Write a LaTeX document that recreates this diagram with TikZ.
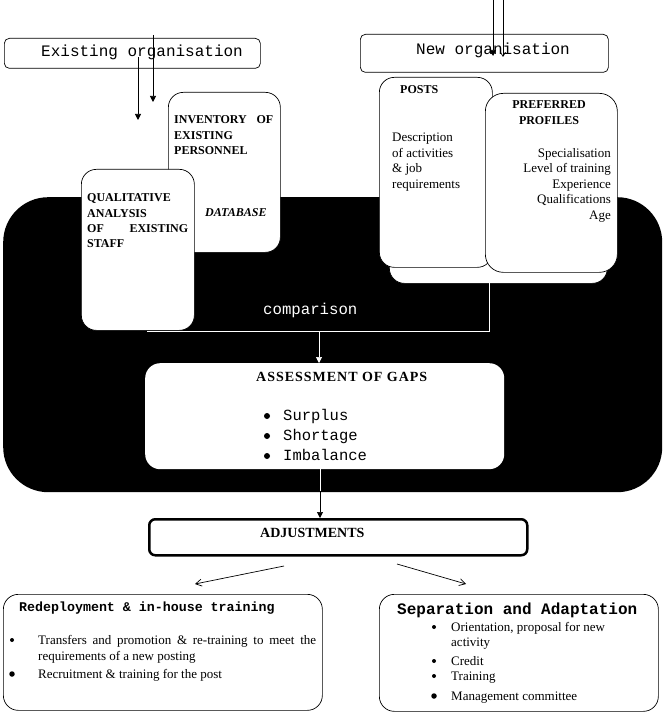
\documentclass[tikz,border=0pt]{standalone}
\usepackage{fontspec}
\setmainfont{Liberation Serif}
\setmonofont{Liberation Mono}
\usetikzlibrary{arrows.meta}
\tikzset{
  box/.style={draw, fill=white, rounded corners=15pt, inner sep=0pt, line width=0.7pt, anchor=north west},
  lbox/.style={draw, fill=white, rounded corners=5pt, inner sep=0pt, line width=0.7pt, anchor=north west},
  txt/.style={anchor=base west, inner sep=0pt},
  rtxt/.style={anchor=base east, inner sep=0pt},
  capsf/.style={font=\fontsize{12}{14}\selectfont\bfseries},
  bodyf/.style={font=\fontsize{13}{15}\selectfont},
  monof/.style={font=\fontsize{16}{18}\selectfont\ttfamily},
  bul/.style={circle, fill, inner sep=0pt, minimum size=4.5pt},
  tipF/.style={line width=0.7pt, -{Triangle[length=6pt,width=6pt]}},
  tipO/.style={line width=0.7pt, -{Straight Barb[length=6pt,width=7pt]}},
  tipS/.style={line width=0.7pt, -{Straight Barb[length=4pt,width=5pt]}},
}
\begin{document}
\begin{tikzpicture}[x=1pt,y=-1pt]
\useasboundingbox (0,0) rectangle (668,714);
% top boxes
\node[lbox, minimum width=256pt, minimum height=30pt] (exist) at (4,38) {};
\node[monof, txt] (existt) at (41,57) {Existing organisation};
\node[lbox, minimum width=248pt, minimum height=38pt] (neworg) at (360,34) {};
\node[monof, txt] (neworgt) at (416,55) {New organisation};
% black background
\node[fill=black, rounded corners=45pt, inner sep=0pt, anchor=north west, minimum width=659pt, minimum height=295pt] (bg) at (3,197) {};
% right group
\node[box, minimum width=218pt, minimum height=183pt] (shadow) at (389,100) {};
\node[box, minimum width=113pt, minimum height=190pt] (posts) at (379,77) {};
\node[box, rounded corners=18pt, minimum width=132pt, minimum height=179pt] (pref) at (485,93) {};
\node[capsf, txt] (postst) at (400,94) {POSTS};
\node[bodyf, txt] (d1) at (392,142) {Description};
\node[bodyf, txt] (d2) at (392,157.5) {of activities};
\node[bodyf, txt] (d3) at (392,173) {\& job};
\node[bodyf, txt] (d4) at (392,188.5) {requirements};
\node[capsf, anchor=base, inner sep=0pt] (preft) at (549,109) {PREFERRED};
\node[capsf, anchor=base, inner sep=0pt] (proft) at (549,125) {PROFILES};
\node[bodyf, rtxt] (p1) at (611,157.5) {Specialisation};
\node[bodyf, rtxt] (p2) at (611,173) {Level of training};
\node[bodyf, rtxt] (p3) at (611,188.5) {Experience};
\node[bodyf, rtxt] (p4) at (611,204) {Qualifications};
\node[bodyf, rtxt] (p5) at (611,219.5) {Age};
% left group
\node[box, minimum width=112pt, minimum height=160pt] (inv) at (168,92) {};
\node[capsf, txt] (inv1) at (174,124) {\makebox[99pt][s]{INVENTORY OF}};
\node[capsf, txt] (inv2) at (174,139.3) {EXISTING};
\node[capsf, txt] (inv3) at (174,154.3) {PERSONNEL};
\node[capsf, txt, font=\fontsize{12}{14}\selectfont\bfseries\itshape] (db) at (205,216.7) {DATABASE};
\node[box, minimum width=113pt, minimum height=161pt] (qual) at (81,169) {};
\node[capsf, txt] (q1) at (87,201.7) {QUALITATIVE};
\node[capsf, txt] (q2) at (87,217) {ANALYSIS};
\node[capsf, txt] (q3) at (87,232.3) {\makebox[101pt][s]{OF EXISTING}};
\node[capsf, txt] (q4) at (87,247.7) {STAFF};
% arrows from top
\coordinate (ea1) at (153,35);
\coordinate (ea1e) at (153,102);
\coordinate (ea2) at (138,57);
\coordinate (ea2e) at (138,120);
\draw[tipF] (ea1) -- (ea1e);
\draw[tipF] (ea2) -- (ea2e);
\coordinate (na1) at (493,0);
\coordinate (na1e) at (493,56);
\coordinate (na2) at (503,0);
\coordinate (na2e) at (503,57);
\draw[tipF] (na1) -- (na1e);
\draw[tipS] (na2) -- (na2e);
% comparison
\node[txt, text=white, font=\fontsize{15.7}{18}\selectfont\ttfamily] (cmp) at (263,314) {comparison};
\coordinate (c1) at (147,331);
\coordinate (c2) at (489,331);
\coordinate (c3) at (489,283);
\coordinate (c4) at (319,331);
\draw[white, line width=0.7pt] (c1) -- (c2) -- (c3);
% assessment
\node[fill=white, rounded corners=15pt, inner sep=0pt, anchor=north west, minimum width=359pt, minimum height=106pt] (assess) at (145,363) {};
\draw[tipF, white] (c4) -- (c4 |- assess.north);
\node[txt, font=\fontsize{14}{16}\selectfont\bfseries\addfontfeature{LetterSpace=7}] (asst) at (256,381) {ASSESSMENT OF GAPS};
\node[bul, minimum size=6pt] (ab1) at (267,416) {};
\node[bul, minimum size=6pt] (ab2) at (267,436) {};
\node[bul, minimum size=6pt] (ab3) at (267,456) {};
\node[txt, font=\fontsize{15.5}{18}\selectfont\ttfamily] (s1) at (283,420) {Surplus};
\node[txt, font=\fontsize{15.5}{18}\selectfont\ttfamily] (s2) at (283,440) {Shortage};
\node[txt, font=\fontsize{15.5}{18}\selectfont\ttfamily] (s3) at (283,460) {Imbalance};
% adjustments
\node[draw, line width=2.5pt, rounded corners=6pt, inner sep=0pt, anchor=north west, minimum width=378pt, minimum height=36pt] (adjust) at (148,518) {};
\node[txt, font=\fontsize{14}{16}\selectfont\bfseries] (adjt) at (260,537) {ADJUSTMENTS};
\coordinate (aa) at (320,469);
\coordinate (ab) at (320,491);
\draw[tipF] (aa) -- (aa |- adjust.north);
\draw[white, line width=0.7pt] (aa) -- (ab);
% bottom boxes
\node[box, minimum width=319pt, minimum height=116pt] (redep) at (3,594) {};
\node[txt, font=\fontsize{13.3}{15}\selectfont\ttfamily\bfseries] (rt) at (19,611) {Redeployment \& in-house training};
\node[bul, minimum size=4pt] (rb1) at (12,640) {};
\node[bul, minimum size=5.5pt] (rb2) at (12,674) {};
\node[bodyf, txt] (r1) at (38,644) {\makebox[278pt][s]{Transfers and promotion \& re-training to meet the}};
\node[bodyf, txt] (r2) at (38,660) {requirements of a new posting};
\node[bodyf, txt] (r3) at (38,678) {Recruitment \& training for the post};
\node[box, minimum width=279pt, minimum height=117pt] (separ) at (379,594) {};
\node[txt, font=\fontsize{16}{18}\selectfont\ttfamily\bfseries] (st) at (397,614) {Separation and Adaptation};
\node[bul, minimum size=4pt] (sb1) at (434,627) {};
\node[bul, minimum size=4pt] (sb2) at (434,661) {};
\node[bul, minimum size=4pt] (sb3) at (434,676) {};
\node[bul, minimum size=5.5pt] (sb4) at (434,696) {};
\node[bodyf, txt] (o1) at (451,631.7) {Orientation, proposal for new};
\node[bodyf, txt] (o2) at (451,646.7) {activity};
\node[bodyf, txt] (o3) at (451,665) {Credit};
\node[bodyf, txt] (o4) at (451,680) {Training};
\node[bodyf, txt] (o5) at (451,700) {Management committee};
% arrows to bottom boxes
\coordinate (l1) at (284,566);
\coordinate (l2) at (195,584);
\coordinate (r1s) at (397,564);
\coordinate (r2e) at (466,584);
\draw[tipO] (l1) -- (l2);
\draw[tipO] (r1s) -- (r2e);
\end{tikzpicture}
\end{document}
